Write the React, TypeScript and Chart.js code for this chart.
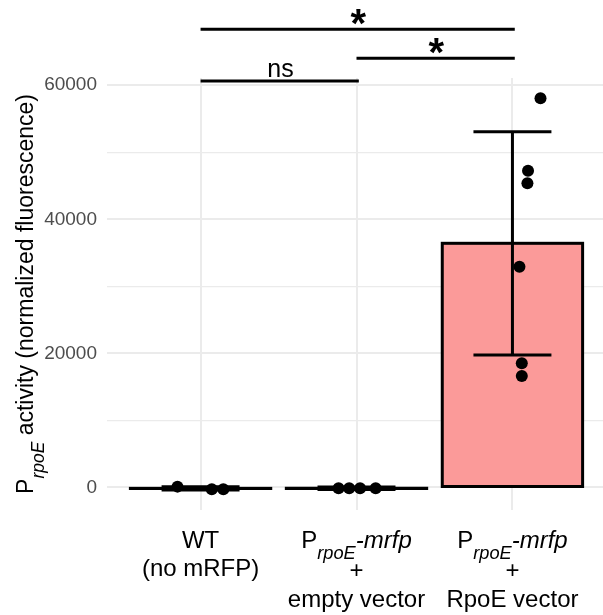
import React, { useEffect, useRef } from 'react';
import { Chart, registerables } from 'chart.js';

Chart.register(...registerables);

// ---- data ----
const categories = ['WT (no mRFP)', 'PrpoE-mrfp + empty vector', 'PrpoE-mrfp + RpoE vector'];
const wtValues = [130, -270, -260];
const wtJitter = [-0.148, 0.072, 0.146];
const emptyValues = [-120, -110, -125, -115];
const emptyJitter = [-0.115, -0.047, 0.023, 0.123];
const rpoeValues = [58050, 47250, 45370, 32930, 18520, 16630];
const rpoeJitter = [0.18, 0.1, 0.096, 0.045, 0.06, 0.06];
const barMeans = [-130, -115, 36420];
const barSD = [250, 200, 16650];
const yTicks = [0, 10000, 20000, 30000, 40000, 50000, 60000];
const yLabelTicks = [0, 20000, 40000, 60000];
const bracketFrom = [1, 2, 1];
const bracketTo = [2, 3, 3];
const bracketY = [60630, 64010, 68340];
const bracketLabel = ['ns', '*', '*'];

const FONT = "'Liberation Sans', Arial, Helvetica, sans-serif";
const Y_MIN = -3356;
const Y_MAX = 61074;

type Part = { t: string; it?: boolean; sub?: boolean };

const xLabelLines: Part[][][] = [
  [[{ t: 'WT' }], [{ t: '(no mRFP)' }]],
  [
    [{ t: 'P' }, { t: 'rpoE', it: true, sub: true }, { t: '-mrfp', it: true }],
    [{ t: '+' }],
    [{ t: 'empty vector' }],
  ],
  [
    [{ t: 'P' }, { t: 'rpoE', it: true, sub: true }, { t: '-mrfp', it: true }],
    [{ t: '+' }],
    [{ t: 'RpoE vector' }],
  ],
];
const yTitle: Part[] = [
  { t: 'P' },
  { t: 'rpoE', it: true, sub: true },
  { t: ' activity (normalized fluorescence)' },
];

function drawRich(ctx: CanvasRenderingContext2D, parts: Part[], cx: number, baseline: number, size: number) {
  const subSize = size * 0.76;
  const fontFor = (p: Part) => `${p.it ? 'italic ' : ''}${p.sub ? subSize : size}px ${FONT}`;
  const widths = parts.map((p) => {
    ctx.font = fontFor(p);
    return ctx.measureText(p.t).width;
  });
  const total = widths.reduce((a, b) => a + b, 0);
  let x = cx - total / 2;
  ctx.textAlign = 'left';
  ctx.textBaseline = 'alphabetic';
  parts.forEach((p, i) => {
    ctx.font = fontFor(p);
    ctx.fillText(p.t, x, baseline + (p.sub ? size * 0.46 : 0));
    x += widths[i];
  });
}

export default function App() {
  const ref = useRef<HTMLCanvasElement>(null);

  useEffect(() => {
    const canvas = ref.current;
    if (!canvas) return;

    const groupValues = [wtValues, emptyValues, rpoeValues];
    const groupJitter = [wtJitter, emptyJitter, rpoeJitter];
    const points: { x: number; y: number }[] = [];
    groupValues.forEach((vals, gi) =>
      vals.forEach((v, j) => points.push({ x: gi + 1 + groupJitter[gi][j], y: v }))
    );

    const errData: { x: number; y: number | null }[] = [];
    barMeans.forEach((m, i) => {
      const x = i + 1;
      const lo = m - barSD[i];
      const hi = m + barSD[i];
      errData.push(
        { x, y: lo }, { x, y: hi }, { x, y: null },
        { x: x - 0.25, y: hi }, { x: x + 0.25, y: hi }, { x, y: null },
        { x: x - 0.25, y: lo }, { x: x + 0.25, y: lo }, { x, y: null }
      );
    });

    const brData: { x: number; y: number | null }[] = [];
    bracketY.forEach((y, i) => {
      brData.push({ x: bracketFrom[i], y }, { x: bracketTo[i] + 0.015, y }, { x: bracketTo[i], y: null });
    });

    const outlinePlugin = {
      id: 'barOutline',
      afterDatasetDraw(chart: any, args: any) {
        if (args.index !== 0) return;
        const ctx = chart.ctx;
        ctx.save();
        ctx.lineWidth = 3;
        ctx.strokeStyle = '#000';
        args.meta.data.forEach((el: any) => {
          const { x, y, base, width } = el.getProps(['x', 'y', 'base', 'width'], true);
          ctx.strokeRect(x - width / 2, Math.min(y, base), width, Math.abs(base - y));
        });
        ctx.restore();
      },
    };

    const textPlugin = {
      id: 'texts',
      afterDraw(chart: any) {
        const ctx = chart.ctx as CanvasRenderingContext2D;
        const xs = chart.scales.x;
        const ys = chart.scales.y;
        const area = chart.chartArea;
        ctx.save();
        ctx.fillStyle = '#000';
        // x labels
        xLabelLines.forEach((lines, i) => {
          const cx = xs.getPixelForValue(i + 1);
          const offs = lines.length === 2 ? [37.7, 66] : [37.7, 68, 96.7];
          lines.forEach((parts, li) => drawRich(ctx, parts, cx, area.bottom + offs[li], 24));
        });
        // y title
        ctx.save();
        ctx.translate(33, (area.top + area.bottom) / 2);
        ctx.rotate(-Math.PI / 2);
        drawRich(ctx, yTitle, 0, 0, 23);
        ctx.restore();
        // bracket labels
        bracketLabel.forEach((lab, i) => {
          const x1 = xs.getPixelForValue(bracketFrom[i]);
          const x2 = xs.getPixelForValue(bracketTo[i]);
          const mid = (x1 + x2) / 2 + 2;
          const ly = ys.getPixelForValue(bracketY[i]);
          if (lab === '*') {
            ctx.font = `bold 40px ${FONT}`;
            ctx.textAlign = 'left';
            ctx.textBaseline = 'alphabetic';
            const m = ctx.measureText(lab);
            const cy = ly - 12.2;
            const bl = cy - (m.actualBoundingBoxDescent - m.actualBoundingBoxAscent) / 2;
            const tx = mid - (m.actualBoundingBoxRight - m.actualBoundingBoxLeft) / 2;
            ctx.fillText(lab, tx, bl);
          } else {
            ctx.font = `25px ${FONT}`;
            ctx.textAlign = 'center';
            ctx.textBaseline = 'alphabetic';
            ctx.fillText(lab, mid, ly - 4.3);
          }
        });
        ctx.restore();
      },
    };

    const chart = new Chart(canvas, {
      type: 'bar',
      data: {
        labels: categories,
        datasets: [
          {
            type: 'bar',
            data: barMeans.map((m, i) => ({ x: i + 1, y: m })) as any,
            backgroundColor: '#FB9A99',
            borderWidth: 0,
            inflateAmount: 0,
            barPercentage: 0.9,
            categoryPercentage: 1,
            order: 3,
          } as any,
          {
            type: 'line',
            data: errData as any,
            borderColor: '#000',
            borderWidth: 3,
            pointRadius: 0,
            spanGaps: false,
            fill: false,
            order: 2,
          } as any,
          {
            type: 'line',
            data: brData as any,
            borderColor: '#000',
            borderWidth: 3,
            pointRadius: 0,
            spanGaps: false,
            fill: false,
            clip: false,
            order: 2,
          } as any,
          {
            type: 'scatter',
            data: points as any,
            backgroundColor: '#000',
            borderWidth: 0,
            pointRadius: 6,
            order: 1,
          } as any,
        ],
      },
      options: {
        responsive: false,
        animation: false,
        devicePixelRatio: 1,
        events: [],
        layout: { padding: { top: 78, left: 0, right: 2, bottom: 0 } },
        plugins: { legend: { display: false }, tooltip: { enabled: false } },
        scales: {
          x: {
            type: 'linear',
            min: 0.4,
            max: 3.6,
            offset: false,
            afterBuildTicks: (s: any) => {
              s.ticks = categories.map((_, i) => ({ value: i + 1 }));
            },
            afterFit: (s: any) => {
              s.height = 105;
            },
            grid: { color: '#EBEBEB', lineWidth: 2, drawTicks: false, offset: false },
            border: { display: false },
            ticks: { display: false },
          },
          y: {
            type: 'linear',
            min: Y_MIN,
            max: Y_MAX,
            afterBuildTicks: (s: any) => {
              s.ticks = yTicks.map((v) => ({ value: v }));
            },
            afterFit: (s: any) => {
              s.width = 107;
            },
            grid: {
              color: '#EBEBEB',
              lineWidth: (c: any) => (c.tick && yLabelTicks.includes(c.tick.value) ? 2 : 1.2),
              drawTicks: false,
            },
            border: { display: false },
            ticks: {
              autoSkip: false,
              color: '#4D4D4D',
              padding: 10,
              font: { family: FONT, size: 19 },
              callback: (v: any) => (yLabelTicks.includes(v) ? String(v) : ''),
            },
          },
        },
      } as any,
      plugins: [outlinePlugin, textPlugin],
    });

    return () => chart.destroy();
  }, []);

  return (
    <div
      style={{
        position: 'absolute',
        left: 0,
        top: 0,
        width: 603,
        height: 615,
        overflow: 'hidden',
        background: '#fff',
      }}
    >
      <canvas ref={ref} width={612} height={615} style={{ display: 'block', width: 612, height: 615 }} />
    </div>
  );
}
